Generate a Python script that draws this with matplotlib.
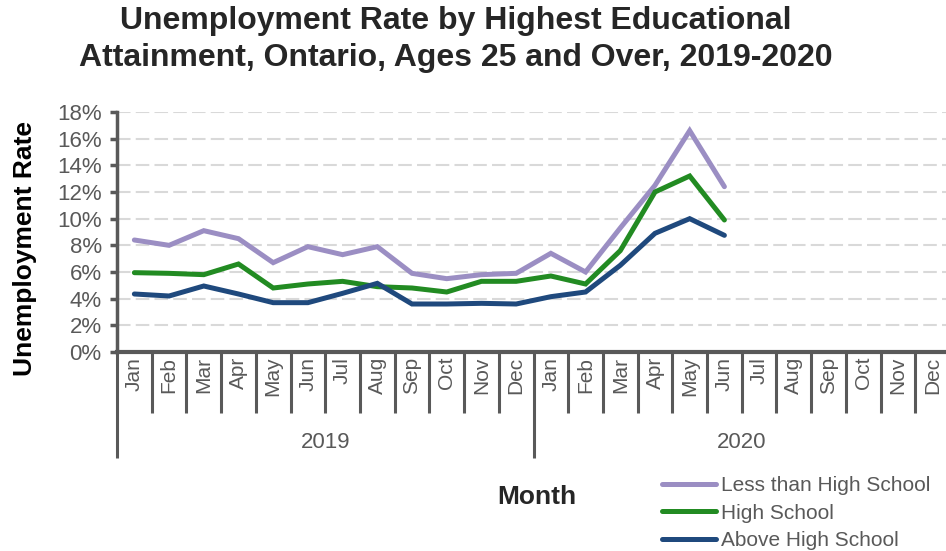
import numpy as np
import matplotlib
matplotlib.use('Agg')
import matplotlib.pyplot as plt
import matplotlib.transforms as mtransforms

plt.rcParams['font.family'] = ['Liberation Sans', 'DejaVu Sans']

# Monthly unemployment rates (%), Ontario, ages 25+
months = ["Jan", "Feb", "Mar", "Apr", "May", "Jun",
          "Jul", "Aug", "Sep", "Oct", "Nov", "Dec"]
years = ["2019", "2020"]
nan = np.nan
less_than_hs = [8.4, 8.0, 9.1, 8.5, 6.7, 7.9, 7.3, 7.9, 5.9, 5.5, 5.8, 5.9,
                7.4, 6.0, 9.3, 12.5, 16.6, 12.4, nan, nan, nan, nan, nan, nan]
high_school = [5.95, 5.9, 5.8, 6.6, 4.8, 5.1, 5.3, 4.9, 4.8, 4.5, 5.3, 5.3,
               5.7, 5.1, 7.6, 12.0, 13.2, 9.9, nan, nan, nan, nan, nan, nan]
above_hs = [4.35, 4.2, 4.95, 4.35, 3.7, 3.7, 4.4, 5.15, 3.6, 3.6, 3.65, 3.6,
            4.15, 4.5, 6.5, 8.9, 10.0, 8.75, nan, nan, nan, nan, nan, nan]
series_names = ["Less than High School", "High School", "Above High School"]
series_colors = ["#9B8EC3", "#228B22", "#1F497D"]

grey = "#595959"
W, H = 946, 551
fig = plt.figure(figsize=(W / 100, H / 100), dpi=100)
ax = fig.add_axes([117 / W, 1 - 352 / H, 833 / W, 240 / H])

x = np.arange(len(months) * len(years))
for vals, name, col in zip([less_than_hs, high_school, above_hs], series_names, series_colors):
    ax.plot(x, vals, color=col, lw=3.6, label=name, solid_capstyle='round',
            solid_joinstyle='miter', zorder=3)

ax.set_xlim(-0.5, len(x) - 0.5)
ax.set_ylim(0, 18)
ax.set_yticks(np.arange(0, 19, 2))
ax.set_yticklabels([f"{v}%" for v in range(0, 19, 2)])
ax.yaxis.grid(True, color="#D9D9D9", lw=1.5, linestyle=(0, (6.5, 2.5)))
ax.set_axisbelow(True)
ax.tick_params(axis='y', direction='out', length=5, width=2.5, color=grey,
               labelcolor=grey, labelsize=16, pad=6)
ax.set_xticks([])
for s in ['top', 'right']:
    ax.spines[s].set_visible(False)
ax.spines['left'].set_color(grey)
ax.spines['left'].set_linewidth(2.5)
ax.spines['bottom'].set_color(grey)
ax.spines['bottom'].set_linewidth(3)

# two-level category axis: months and years
trans = mtransforms.blended_transform_factory(ax.transData, ax.transAxes)
for i in range(len(x)):
    ax.text(x[i], -0.02, months[i % 12], transform=trans, rotation=90,
            ha='center', va='top', fontsize=15, color=grey)
for b in np.arange(len(x) + 1) - 0.5:
    depth = -0.44 if (b + 0.5) % 12 == 0 else -0.255
    ax.plot([b, b], [0, depth], transform=trans, color=grey, lw=2.2,
            clip_on=False, solid_capstyle='butt')
for j, yr in enumerate(years):
    ax.text(j * 12 + 5.5, -0.375, yr, transform=trans, ha='center',
            va='center', fontsize=16, color=grey)

fig.text(456 / W, 1 - 6 / H,
         "Unemployment Rate by Highest Educational\nAttainment, Ontario, Ages 25 and Over, 2019-2020",
         ha='center', va='top', fontsize=23, fontweight='bold', color="#262626",
         linespacing=1.3)
fig.text(25 / W, 1 - 248 / H, "Unemployment Rate", rotation=90, ha='center',
         va='center', fontsize=19, fontweight='bold', color="black")
fig.text(537 / W, 1 - 497 / H, "Month", ha='center', va='center',
         fontsize=19, fontweight='bold', color="#262626")

leg = fig.legend(loc='upper left', bbox_to_anchor=(662 / W, 1 - 476 / H),
                 frameon=False, fontsize=15, handlelength=2.6, handletextpad=0.25,
                 labelspacing=0.42, borderpad=0, borderaxespad=0)
for t in leg.get_texts():
    t.set_color(grey)
for l in leg.get_lines():
    l.set_linewidth(3.6)

fig.savefig("out.png", dpi=100)
